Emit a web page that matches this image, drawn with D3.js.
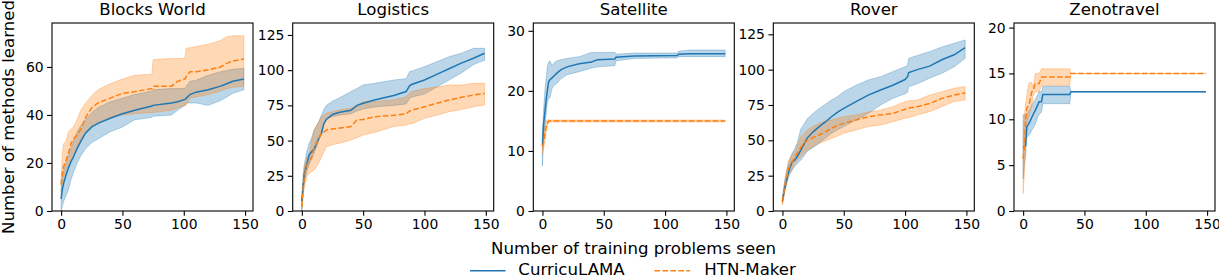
<!DOCTYPE html>
<html><head><meta charset="utf-8">
<script src="https://cdn.jsdelivr.net/npm/d3@7"></script>
<style>
html,body{margin:0;padding:0;background:#fff;}
svg{display:block;font-family:"DejaVu Sans",sans-serif;}
</style></head>
<body>
<svg id="chart" width="1219" height="277"></svg>
<script>
// ---------- data ----------
const titles = ["Blocks World","Logistics","Satellite","Rover","Zenotravel"];
const seriesNames = ["CurricuLAMA","HTN-Maker"];
const xTicks = [0,50,100,150];
const bwYTicks = [0,20,40,60];
const logYTicks = [0,25,50,75,100,125];
const satYTicks = [0,10,20,30];
const rovYTicks = [0,25,50,75,100,125];
const zenYTicks = [0,5,10,15,20];
const yMax = [78.3,133.5,31.3,133,20.5];

// Blocks World
const bwX       = [0,1,2,4,6,8,10,13,16,20,25,30,40,50,60,74,75,90,95,101,102,105,110,120,130,135,140,149];
const bwCurMean = [5,9,11.5,15,18,20.5,22.5,26,29,32.5,35,36.5,38.6,40.5,42,43.7,44,45,45.5,46.5,47,48.5,49.5,50.5,52,53,54,55];
const bwCurLo   = [0,2,4,6.5,9,13,16,20,23,26,28.5,30,33,35,38,39,39.5,40,42,44,45,45,45,44,46,47.5,49,50.5];
const bwCurHi   = [9,14,17,20,23,26,29,33,35.5,38,41,43,45.5,47,48.5,50,50.5,51,51,51,52,54,54.5,56.5,58,58.5,59,59.5];
const bwHtnMean = [11,16,18.5,21,24,28,30,31.5,34,39,43,45,47,49,49.7,51,52,52,54,55,56,58,58,58.8,60,61.5,62.5,63.3];
const bwHtnLo   = [8,12,14,17,19,21,23,27,30,33,35.5,37,39,40,40.5,41,41,42,43,44,44,47,47.5,48.5,50,51,51.5,52];
const bwHtnHi   = [14,24,28,29,33,34,35,38,42,45,48,50.5,53,55,56.5,57,63,63.5,63.5,63.6,67.8,68,68.5,69.5,71,72.6,73,73];

// Logistics
const logX       = [0,1,2,4,6,8,10,13,16,18,20,25,30,40,45,50,60,75,85,88,90,100,110,120,130,140,149];
const logCurMean = [7,17,26,33,40,42,44,50,55,62,65,68.5,70,71.5,75,76.5,79,82,84.8,89,90,93,97,101,105,108.5,112];
const logCurLo   = [0,12,20,28,33,37,41,48,57,62,65.5,67,68,69,71,72.5,74,75,76,80,81,83,88,93,98,104,107];
const logCurHi   = [10,25,33,42,48,52,57.5,62,68,72,75,78,80,84.8,87,89.5,90.7,93,94,99,99.5,102.5,106,109.5,112,115.5,115.5];
const logHtnMean = [3,15,24,32,36,38,45,50,55,56,57.5,58.3,58.7,60,64.6,65,67,68,69,71,71.7,74,76.5,78.8,80.7,82.4,83.5];
const logHtnLo   = [0,10,17,24,27,28,29,33,38,42,45.7,47,48,50.4,52,54,56,60,61,62,62,65.8,68,70.5,72,74,75.3];
const logHtnHi   = [7,22,31.5,38,40,50,57.5,62,67,68,69.4,70.5,71.7,73,75,77.7,77.7,79,81,84,84.8,87,88,89.5,89.5,90.7,90.7];

// Satellite
const satX       = [0,1,2,3,4,5,6,8,10,12,15,20,30,40,45,59,60,75,110,111,120,149];
const satCurMean = [11,14.5,16.5,18.5,20,21.5,21.8,22.2,22.6,23,23.5,24,24.5,24.8,25.2,25.3,25.6,25.8,25.9,26.1,26.2,26.2];
const satCurLo   = [7.5,12,14,16,18,18.8,18.8,20.5,21,21.3,22,22.7,23.2,23.8,24,24.2,25,25.4,25.5,25.7,25.7,25.7];
const satCurHi   = [13.5,17,20,22,24,24.8,25,24.2,24.8,25,25.2,25.4,25.7,26.4,26.4,26.4,26.1,26.3,26.3,26.6,26.8,26.8];
const satHtnMean = [10.7,11.5,12.8,14,14.6,15,15,15,15,15,15,15,15,15,15,15,15,15,15,15,15,15];
const satHtnLo   = [9.5,10.5,11.5,13,14,14.8,14.85,14.85,14.85,14.85,14.85,14.85,14.85,14.85,14.85,14.85,14.85,14.85,14.85,14.85,14.85,14.85];
const satHtnHi   = [12,13,14,15,15.2,15.2,15.15,15.15,15.15,15.15,15.15,15.15,15.15,15.15,15.15,15.15,15.15,15.15,15.15,15.15,15.15,15.15];

// Rover
const rovX       = [0,2,5,8,10,12,15,18,20,25,30,35,40,45,50,60,70,80,90,100,102,103,110,120,130,140,149];
const rovCurMean = [7,17,27.8,35,36,38.4,43,48,51.4,56,59.7,63,66.7,70,72.6,77.4,82,85.6,89,93,95,98,100,102.5,107,110.5,115.5];
const rovCurLo   = [5.5,14,24,29,31.4,33.5,36,39.5,42,45,48,51.5,55,57.5,59.7,64.4,69,75,79.7,83,84,88,90,94,97.4,102,108];
const rovCurHi   = [10,22,34,41,44,48,58,62,65,69,72.6,75.5,78.5,81,84.4,89,92.7,95,98.6,102,103,108,110,112.7,116,118.6,121];
const rovHtnMean = [6.6,18,30,35,38,40.8,45,48,50,52,53.8,56,58.5,60.5,62,64.4,66.7,68,69,72,72.6,72.8,73.8,76,79.7,82,83.5];
const rovHtnLo   = [4.2,14,25.5,30,33.7,36,38.4,41,43,45.5,47.9,49.5,51.4,53,55,57.3,59.7,60.8,63.2,65.6,66,66,68,70.3,73.8,77.4,78.5];
const rovHtnHi   = [9,22,36,40,42,46,52.6,55,57,60,62,63.5,64.4,65.5,66.7,68,70,71.5,73.8,77.4,77.8,78,78.5,82,84.4,86.8,88];

// Zenotravel
const zenX       = [0,1,2,3,4,5,6,7,8,10,12,13,15,16,38,39,149];
const zenCurMean = [7,7,7.2,9.2,9.4,9.6,9.9,10.2,10.5,11,11.6,11.9,11.9,12.7,12.7,13,13];
const zenCurLo   = [3.5,5,6,8,8.2,8.3,8.5,8.8,9,9.5,10.3,10.5,10.8,11.7,11.7,13,13];
const zenCurHi   = [10.5,10.5,10.5,10.6,10.8,11,11.2,11.5,11.8,12.2,12.7,13,13,13.6,13.6,13,13];
const zenHtnMean = [5.7,7,9.9,11.2,11.4,11.7,12.3,13,13.1,13.9,13.9,13.9,14.6,14.6,14.6,15,15];
const zenHtnLo   = [1.9,4,8,9.5,10,10.5,11,11.4,12.5,13,13,13,13.7,13.7,13.7,15,15];
const zenHtnHi   = [8,10.3,11.7,12.5,13.5,14,14,14,13.5,15,15,15,15.5,15.5,15.5,15,15];

// ---------- assemble ----------
const panels = [
  {x:bwX,  yTicks:bwYTicks,  s:[[bwCurMean,bwCurLo,bwCurHi],[bwHtnMean,bwHtnLo,bwHtnHi]]},
  {x:logX, yTicks:logYTicks, s:[[logCurMean,logCurLo,logCurHi],[logHtnMean,logHtnLo,logHtnHi]]},
  {x:satX, yTicks:satYTicks, s:[[satCurMean,satCurLo,satCurHi],[satHtnMean,satHtnLo,satHtnHi]]},
  {x:rovX, yTicks:rovYTicks, s:[[rovCurMean,rovCurLo,rovCurHi],[rovHtnMean,rovHtnLo,rovHtnHi]]},
  {x:zenX, yTicks:zenYTicks, s:[[zenCurMean,zenCurLo,zenCurHi],[zenHtnMean,zenHtnLo,zenHtnHi]]}
];
const colors = ["#1f77b4","#ff7f0e"];
const dashes = [null,"5.55,2.4"];

const svg = d3.select("#chart");
const lefts = [52,292.7,533.3,773.3,1014];
const pw = 201, topY = 23, bottomY = 211;
const tickFont = 13.9, labelFont = 16.6;

panels.forEach((p,i)=>{
  const x = d3.scaleLinear().domain([-7.45,156.45]).range([lefts[i], lefts[i]+pw]);
  const y = d3.scaleLinear().domain([0,yMax[i]]).range([bottomY, topY]);
  const g = svg.append("g");
  const clipId = "clip"+i;
  svg.append("clipPath").attr("id",clipId).append("rect")
    .attr("x",lefts[i]).attr("y",topY).attr("width",pw).attr("height",bottomY-topY);
  const plot = g.append("g").attr("clip-path",`url(#${clipId})`);
  p.s.forEach((ser,k)=>{
    const [mean,lo,hi] = ser;
    const pts = p.x.map((xv,j)=>({x:xv,m:mean[j],lo:lo[j],hi:hi[j]}));
    plot.append("path").datum(pts)
      .attr("d", d3.area().x(d=>x(d.x)).y0(d=>y(d.lo)).y1(d=>y(d.hi)))
      .attr("fill", colors[k]).attr("fill-opacity",0.3)
      .attr("stroke",colors[k]).attr("stroke-opacity",0.3).attr("stroke-width",1);
  });
  p.s.forEach((ser,k)=>{
    const [mean] = ser;
    const pts = p.x.map((xv,j)=>({x:xv,m:mean[j]}));
    plot.append("path").datum(pts)
      .attr("d", d3.line().x(d=>x(d.x)).y(d=>y(d.m)))
      .attr("fill","none").attr("stroke",colors[k]).attr("stroke-width",1.5)
      .attr("stroke-dasharray",dashes[k]);
  });
  // axes
  const xa = g.append("g").attr("transform",`translate(0,${bottomY})`)
    .call(d3.axisBottom(x).tickValues(xTicks).tickSize(4.86).tickPadding(3.5).tickFormat(d3.format("d")));
  const ya = g.append("g").attr("transform",`translate(${lefts[i]},0)`)
    .call(d3.axisLeft(y).tickValues(p.yTicks).tickSize(4.86).tickPadding(3.5).tickFormat(d3.format("d")));
  [xa,ya].forEach(a=>{
    a.select(".domain").remove();
    a.selectAll(".tick line").attr("stroke","#000").attr("stroke-width",1.1);
    a.selectAll(".tick text").attr("fill","#000").style("font-size",tickFont+"px").style("font-family","DejaVu Sans");
  });
  g.append("rect").attr("x",lefts[i]).attr("y",topY).attr("width",pw).attr("height",bottomY-topY)
    .attr("fill","none").attr("stroke","#000").attr("stroke-width",1.1);
  g.append("text").attr("x",lefts[i]+pw/2).attr("y",topY-8.3).attr("text-anchor","middle")
    .style("font-size",labelFont+"px").text(titles[i]);
});

// axis labels
svg.append("text").attr("x",(lefts[0]+lefts[4]+pw)/2).attr("y",254.3)
  .attr("text-anchor","middle").style("font-size",labelFont+"px").text("Number of training problems seen");
svg.append("text").attr("transform",`translate(13.5,${(topY+bottomY)/2}) rotate(-90)`)
  .attr("text-anchor","middle").style("font-size",labelFont+"px").text("Number of methods learned");

// legend
const legX = [470,654.5];
const legTextX = [518.3,704.3];
seriesNames.forEach((n,k)=>{
  svg.append("line").attr("x1",legX[k]).attr("x2",legX[k]+35.5).attr("y1",270.8).attr("y2",270.8)
    .attr("stroke",colors[k]).attr("stroke-width",1.5).attr("stroke-dasharray",dashes[k]);
  svg.append("text").attr("x",legTextX[k]).attr("y",274.8).style("font-size",labelFont+"px").text(n);
});
</script>
</body></html>
